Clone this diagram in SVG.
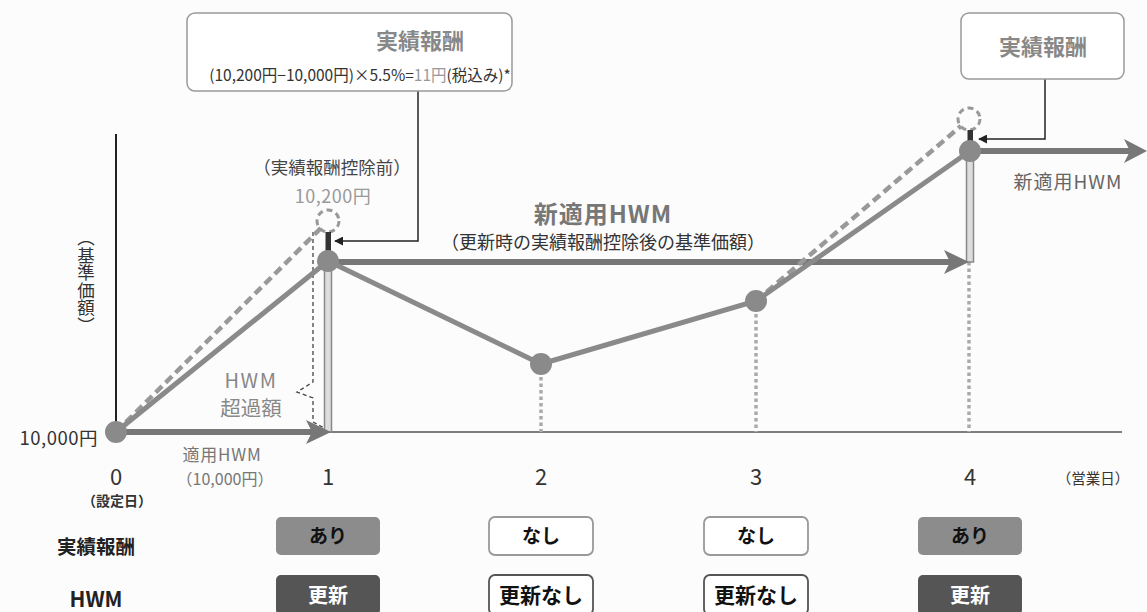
<svg xmlns="http://www.w3.org/2000/svg" width="1147" height="612" viewBox="0 0 1147 612">
<defs>
<style>
text{font-family:"Noto Sans CJK JP","Noto Sans",sans-serif;}
.dark{fill:#333;}
.mid{fill:#777;}
.lite{fill:#999;}
.callout{fill:#fff;stroke:#999;stroke-width:1.5;}
.pt{fill:#8a8a8a;}
.dcirc{fill:none;stroke:#999;stroke-width:3;stroke-dasharray:6 4;}
.solid{stroke:#8a8a8a;stroke-width:5;fill:none;stroke-linecap:round;}
.dash{stroke:#999;stroke-width:4.5;fill:none;stroke-dasharray:9 5;}
.dot{stroke:#aaa;stroke-width:3.5;fill:none;stroke-dasharray:3.5 3;}
.hwm{stroke:#777;stroke-width:6;fill:none;}
.thin{stroke:#222;stroke-width:1.5;fill:none;}
.bar{fill:#333;}
.dbl{fill:#ddd;stroke:#888;stroke-width:1.5;}
.b-ari{fill:#8c8c8c;}
.b-nashi{fill:#fff;stroke:#999;stroke-width:1.8;}
.b-up{fill:#555;}
.b-noup{fill:#fff;stroke:#555;stroke-width:1.8;}
.bt{font-weight:bold;font-size:19px;text-anchor:middle;}
.ax{font-size:22px;text-anchor:middle;fill:#333;}
</style>
<marker id="ah" viewBox="0 0 10 10" refX="9" refY="5" markerWidth="9" markerHeight="9" markerUnits="userSpaceOnUse" orient="auto"><path d="M0,0 L10,5 L0,10 Z" fill="#222"/></marker>
</defs>
<rect width="1147" height="612" fill="#fcfcfc"/>

<g id="axes">
<line x1="116" y1="134" x2="116" y2="432" stroke="#222" stroke-width="2"/>
<line x1="116" y1="432" x2="1122" y2="432" stroke="#555" stroke-width="1.5"/>
</g>

<g id="connectors">
<line class="dot" x1="541" y1="364" x2="541" y2="432"/>
<line class="dot" x1="756" y1="301" x2="756" y2="432"/>
<line class="dot" x1="969" y1="262" x2="969" y2="432"/>
<rect class="dbl" x="324.5" y="261" width="7" height="171"/>
<rect class="dbl" x="966.5" y="150" width="7" height="112"/>
<path d="M313,232 V382 L297,392 L313,398 V422 L324,428" stroke="#444" stroke-width="1.3" fill="none" stroke-dasharray="4 3"/>
<line class="hwm" x1="116" y1="432" x2="314" y2="432"/>
<path d="M331,432 L306,420 L312,432 L306,444 Z" fill="#777"/>
<line class="hwm" x1="328" y1="262" x2="952" y2="262"/>
<path d="M969,262 L944,250 L950,262 L944,274 Z" fill="#777"/>
<line class="hwm" x1="970" y1="151" x2="1132" y2="151"/>
<path d="M1147,151 L1124,139 L1130,151 L1124,163 Z" fill="#777"/>
<line class="dash" x1="116" y1="432" x2="321" y2="228"/>
<line class="dash" x1="756" y1="301" x2="961" y2="126"/>
<polyline class="solid" points="116,432 328,261 541,364 756,301 970,151"/>
<polyline class="thin" points="418,91 418,241 335,241" marker-end="url(#ah)"/>
<polyline class="thin" points="1045,79 1045,139 979,139" marker-end="url(#ah)"/>
</g>

<g id="p0"><circle class="pt" cx="116" cy="432" r="11"/></g>
<g id="p1">
<circle class="dcirc" cx="328" cy="221" r="11"/>
<rect class="bar" x="325.5" y="232" width="5.5" height="19"/>
<circle class="pt" cx="328" cy="261" r="11"/>
</g>
<g id="p2"><circle class="pt" cx="541" cy="364" r="11"/></g>
<g id="p3"><circle class="pt" cx="756" cy="301" r="11"/></g>
<g id="p4">
<circle class="dcirc" cx="969" cy="119" r="11"/>
<rect class="bar" x="967.5" y="130" width="5.5" height="11"/>
<circle class="pt" cx="970" cy="151" r="11"/>
</g>

<g id="callout1">
<rect class="callout" x="187" y="13" width="325" height="78" rx="8"/>
<text x="420" y="49" font-size="22" font-weight="bold" text-anchor="middle" fill="#888">実績報酬</text>
<text x="360" y="81" font-size="15.5" text-anchor="middle" class="dark">(10,200円−10,000円)×5.5%=<tspan fill="#999">11円</tspan>(税込み)*</text>
</g>
<g id="callout2">
<rect class="callout" x="961" y="13" width="163" height="66" rx="8"/>
<text x="1043" y="55" font-size="22" font-weight="bold" text-anchor="middle" fill="#888">実績報酬</text>
</g>

<g id="labels">
<text x="332" y="174" font-size="17.5" text-anchor="middle" fill="#444">（実績報酬控除前）</text>
<text x="333" y="203" font-size="18" letter-spacing="0.5" text-anchor="middle" class="lite">10,200円</text>
<text x="603" y="223" font-size="24" letter-spacing="1" text-anchor="middle" class="mid" font-weight="bold">新適用HWM</text>
<text x="603" y="249" font-size="18" text-anchor="middle" class="dark">（更新時の実績報酬控除後の基準価額）</text>
<text x="1068" y="189" font-size="19" letter-spacing="1" text-anchor="middle" fill="#666">新適用HWM</text>
<text x="251" y="388" font-size="20" letter-spacing="1.5" text-anchor="middle" fill="#888">HWM</text>
<text x="251" y="416" font-size="20.5" text-anchor="middle" fill="#888">超過額</text>
<text x="222" y="461" font-size="17" letter-spacing="0.8" text-anchor="middle" class="mid">適用HWM</text>
<text x="225" y="485" font-size="16" text-anchor="middle" class="mid">（10,000円）</text>
<text x="98" y="445" font-size="18.5" letter-spacing="0.5" text-anchor="end" class="dark">10,000円</text>
<text class="ax" x="116" y="485">0</text>
<text x="117" y="506" font-size="14" text-anchor="middle" class="dark" font-weight="bold">（設定日）</text>
<text class="ax" x="328" y="485">1</text>
<text class="ax" x="541" y="485">2</text>
<text class="ax" x="756" y="485">3</text>
<text class="ax" x="970" y="485">4</text>
<text x="1093" y="484" font-size="14.5" text-anchor="middle" class="dark">（営業日）</text>
<text x="86" y="229" font-size="17.5" class="dark" style="writing-mode:vertical-rl">（基準価額）</text>
</g>

<g id="row-labels">
<text x="96" y="554" font-size="19.5" text-anchor="middle" fill="#222" font-weight="bold">実績報酬</text>
<text x="96" y="607" font-size="21" text-anchor="middle" fill="#222" font-weight="bold">HWM</text>
</g>

<g id="fee1"><rect class="b-ari" x="276" y="517" width="104" height="38" rx="5"/><text class="bt" x="328" y="543" fill="#111">あり</text></g>
<g id="fee2"><rect class="b-nashi" x="489" y="517" width="104" height="38" rx="6"/><text class="bt" x="541" y="543" fill="#111">なし</text></g>
<g id="fee3"><rect class="b-nashi" x="704" y="517" width="104" height="38" rx="6"/><text class="bt" x="756" y="543" fill="#111">なし</text></g>
<g id="fee4"><rect class="b-ari" x="918" y="517" width="104" height="38" rx="5"/><text class="bt" x="970" y="543" fill="#111">あり</text></g>

<g id="hwm1"><rect class="b-up" x="276" y="575" width="104" height="40" rx="5"/><text class="bt" x="328" y="603" style="font-size:20px" fill="#fff">更新</text></g>
<g id="hwm2"><rect class="b-noup" x="489" y="575" width="104" height="40" rx="6"/><text class="bt" x="541" y="603" style="font-size:21px" fill="#111">更新なし</text></g>
<g id="hwm3"><rect class="b-noup" x="704" y="575" width="104" height="40" rx="6"/><text class="bt" x="756" y="603" style="font-size:21px" fill="#111">更新なし</text></g>
<g id="hwm4"><rect class="b-up" x="918" y="575" width="104" height="40" rx="5"/><text class="bt" x="970" y="603" style="font-size:20px" fill="#fff">更新</text></g>
</svg>
